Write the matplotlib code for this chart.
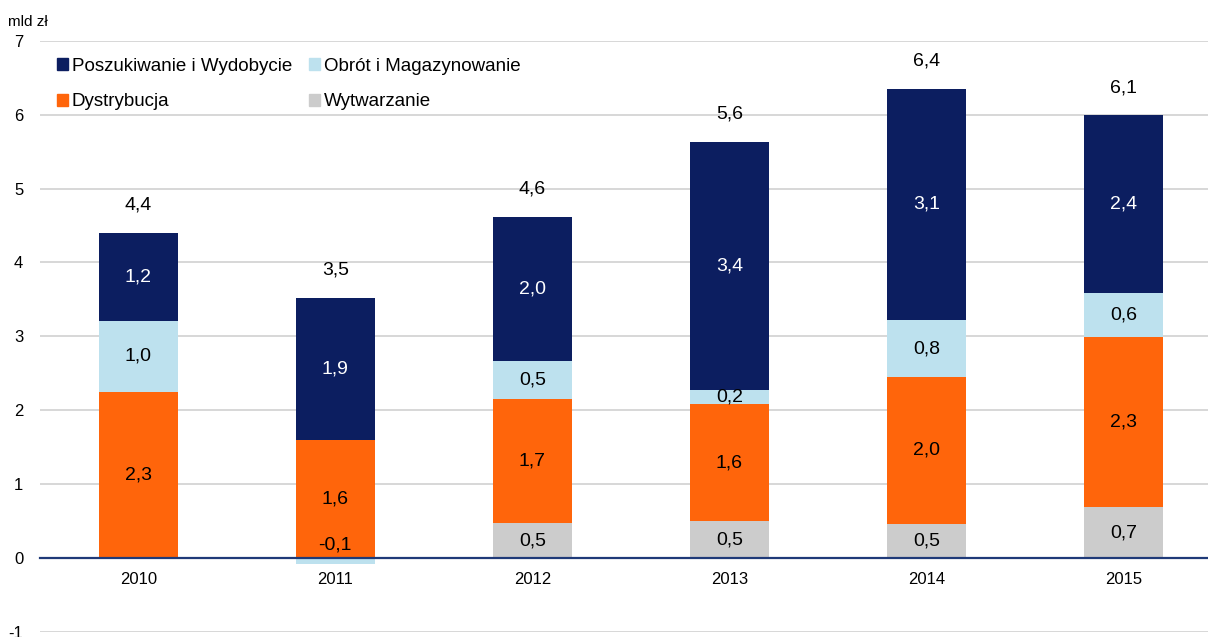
import numpy as np
import matplotlib
matplotlib.use("Agg")
import matplotlib.pyplot as plt
from matplotlib.patches import Patch

plt.rcParams['font.family'] = ['Liberation Sans', 'DejaVu Sans']
plt.rcParams['axes.unicode_minus'] = False

years = ["2010", "2011", "2012", "2013", "2014", "2015"]

# segment values (mld zł)
wytwarzanie = [0.0, 0.0, 0.47, 0.50, 0.46, 0.69]
dystrybucja = [2.25, 1.60, 1.68, 1.58, 1.99, 2.30]
obrot = [0.96, -0.08, 0.51, 0.19, 0.77, 0.60]
poszukiwanie = [1.19, 1.92, 1.96, 3.36, 3.13, 2.40]

# printed labels
wytw_labels = ["", "", "0,5", "0,5", "0,5", "0,7"]
dystr_labels = ["2,3", "1,6", "1,7", "1,6", "2,0", "2,3"]
obrot_labels = ["1,0", "-0,1", "0,5", "0,2", "0,8", "0,6"]
posz_labels = ["1,2", "1,9", "2,0", "3,4", "3,1", "2,4"]
total_labels = ["4,4", "3,5", "4,6", "5,6", "6,4", "6,1"]

NAVY = "#0c1e60"
LIGHT = "#bde1ee"
ORANGE = "#ff650b"
GRAY = "#cccccc"

series = [
    ("Wytwarzanie", wytwarzanie, GRAY, wytw_labels, "black"),
    ("Dystrybucja", dystrybucja, ORANGE, dystr_labels, "black"),
    ("Obrót i Magazynowanie", obrot, LIGHT, obrot_labels, "black"),
    ("Poszukiwanie i Wydobycie", poszukiwanie, NAVY, posz_labels, "white"),
]

fig = plt.figure(figsize=(12.08, 6.37), dpi=100)
ax = fig.add_axes([0.033, 0.008, 0.967, 0.928])

x = np.arange(len(years))
width = 0.4
pos_bottom = np.zeros(len(years))
neg_bottom = np.zeros(len(years))

for name, vals, color, labels, tcolor in series:
    vals = np.array(vals)
    bottom = np.where(vals >= 0, pos_bottom, neg_bottom)
    ax.bar(x, vals, width, bottom=bottom, color=color, zorder=2)
    for i, v in enumerate(vals):
        if not labels[i]:
            continue
        yc = bottom[i] + v / 2
        if v < 0:
            # small negative segment: label sits just above the axis
            yc = 0.17
        ax.text(x[i], yc, labels[i], ha="center", va="center",
                fontsize=14, color=tcolor, zorder=4)
    pos_bottom = pos_bottom + np.where(vals >= 0, vals, 0)
    neg_bottom = neg_bottom + np.where(vals < 0, vals, 0)

for i, t in enumerate(total_labels):
    ax.annotate(t, (x[i], pos_bottom[i]), xytext=(0, 20), textcoords="offset points",
                ha="center", va="center", fontsize=14, color="black")

ax.set_ylim(-1, 7)
ax.set_xlim(-0.5, 5.43)
ax.set_yticks(range(-1, 8))
ax.set_xticks(x)
ax.set_xticklabels(years)
ax.tick_params(axis="both", length=0, labelsize=12)
ax.tick_params(axis="y", pad=12)
ax.tick_params(axis="x", pad=10)

ax.grid(axis="y", color="#d4d4d4", linewidth=1.3, zorder=0)
for s in ["top", "right", "left"]:
    ax.spines[s].set_visible(False)
# category axis crosses at zero
ax.spines["bottom"].set_position(("data", 0))
ax.spines["bottom"].set_color("#1f3a78")
ax.spines["bottom"].set_linewidth(1.6)
ax.spines["bottom"].set_zorder(3)

fig.text(0.007, 0.965, "mld zł", fontsize=11, ha="left", va="center")

handles = [Patch(color=NAVY), Patch(color=ORANGE), Patch(color=LIGHT), Patch(color=GRAY)]
names = ["Poszukiwanie i Wydobycie", "Dystrybucja", "Obrót i Magazynowanie", "Wytwarzanie"]
ax.legend(handles, names, ncol=2, frameon=False, loc="upper left",
          bbox_to_anchor=(0.0, 1.0), fontsize=13.5, handlelength=0.6,
          handleheight=0.6, handletextpad=0.2, labelspacing=1.0, columnspacing=0.9)

fig.savefig("out.png", dpi=100)
